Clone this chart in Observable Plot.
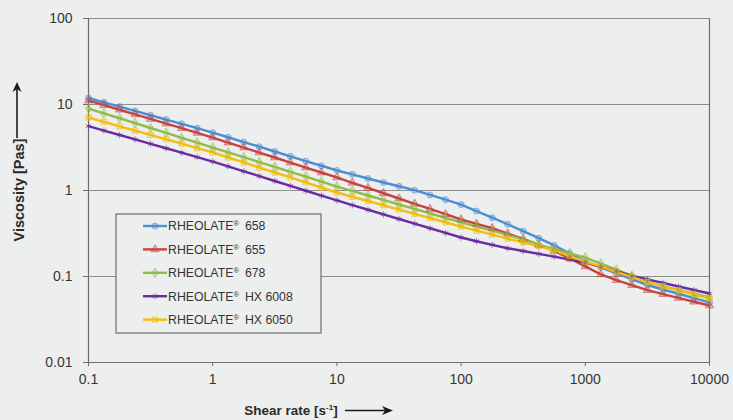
<!DOCTYPE html>
<html><head><meta charset="utf-8">
<script src="https://cdn.jsdelivr.net/npm/d3@7"></script>
<script src="https://cdn.jsdelivr.net/npm/@observablehq/plot@0.6"></script>
<style>
html,body{margin:0;padding:0;background:#edefee;}
#chart{position:relative;width:733px;height:420px;}
</style></head><body><div id="chart"></div>
<script>
const shearRate = [0.1,0.133,0.178,0.237,0.316,0.422,0.562,0.75,1,1.33,1.78,2.37,3.16,4.22,5.62,7.5,10,13.3,17.8,23.7,31.6,42.2,56.2,75,100,133,178,237,316,422,562,750,1000,1334,1778,2371,3162,4217,5623,7499,10000];
const rheolate658 = [11.9,10.6,9.46,8.41,7.50,6.68,5.96,5.30,4.72,4.16,3.66,3.23,2.84,2.50,2.20,1.94,1.71,1.54,1.38,1.24,1.12,1.01,0.887,0.782,0.687,0.577,0.483,0.405,0.337,0.279,0.230,0.185,0.149,0.128,0.109,0.0931,0.0796,0.0706,0.0630,0.0561,0.0499];
const rheolate655 = [11.1,9.84,8.69,7.67,6.79,6.00,5.30,4.68,4.13,3.61,3.16,2.76,2.42,2.11,1.85,1.62,1.42,1.23,1.07,0.929,0.807,0.701,0.610,0.530,0.460,0.410,0.365,0.316,0.274,0.233,0.198,0.162,0.131,0.106,0.0908,0.0794,0.0695,0.0625,0.0565,0.0509,0.0460];
const rheolate678 = [8.97,7.87,6.92,6.07,5.33,4.68,4.10,3.61,3.16,2.77,2.44,2.14,1.88,1.65,1.45,1.27,1.11,0.989,0.875,0.776,0.687,0.610,0.541,0.479,0.425,0.381,0.342,0.305,0.268,0.235,0.208,0.186,0.166,0.141,0.120,0.102,0.0863,0.0774,0.0700,0.0631,0.0570];
const rheolateHX6008 = [5.60,4.98,4.42,3.93,3.49,3.10,2.75,2.44,2.17,1.91,1.67,1.47,1.29,1.13,0.993,0.873,0.766,0.676,0.597,0.527,0.466,0.412,0.364,0.321,0.284,0.257,0.233,0.213,0.198,0.183,0.170,0.157,0.146,0.129,0.115,0.102,0.0927,0.0843,0.0766,0.0697,0.0634];
const rheolateHX6050 = [7.06,6.28,5.58,4.97,4.43,3.94,3.50,3.11,2.77,2.42,2.12,1.85,1.62,1.42,1.24,1.08,0.948,0.845,0.755,0.673,0.601,0.536,0.479,0.427,0.381,0.342,0.307,0.276,0.249,0.225,0.200,0.173,0.149,0.130,0.113,0.0989,0.0861,0.0769,0.0690,0.0618,0.0555];
const seriesNames = ["658","655","678","HX 6008","HX 6050"];
const seriesValues = [rheolate658, rheolate655, rheolate678, rheolateHX6008, rheolateHX6050];
const seriesColors = ["#4b8ed4","#c8423f","#8fbc4a","#6a2c9e","#f5bd0c"];
const seriesSymbols = ["circle","triangle","diamond","asterisk","square"];
const xTicks = [0.1,1,10,100,1000,10000];
const yTicks = [0.01,0.1,1,10,100];

const rows = [];
seriesNames.forEach((s, i) => seriesValues[i].forEach((v, j) => rows.push({series: s, x: shearRate[j], y: v})));

const font = "'Liberation Sans', Arial, sans-serif";
const chart = Plot.plot({
  width: 733, height: 420,
  marginLeft: 88, marginRight: 24, marginTop: 18, marginBottom: 58,
  style: {background: "#edefee", fontFamily: font, fontSize: "14px", color: "#363636"},
  x: {type: "log", domain: [0.1, 10000]},
  y: {type: "log", domain: [0.01, 100]},
  color: {domain: seriesNames, range: seriesColors},
  symbol: {domain: seriesNames, range: seriesSymbols},
  marks: [
    Plot.ruleY([0.1, 1, 10, 100], {stroke: "#8e8e8e", strokeWidth: 1}),
    Plot.ruleX([0.1, 10000], {stroke: "#6e6e6e", strokeWidth: 1.2}),
    Plot.ruleY([0.01], {stroke: "#6e6e6e", strokeWidth: 1.2}),
    Plot.axisY({ticks: yTicks, tickFormat: d => String(d), tickSize: 5, tickPadding: 11, label: null, stroke: "#6e6e6e"}),
    Plot.axisX({ticks: xTicks, tickFormat: d => String(d), tickSize: 4, tickPadding: 8, label: null, stroke: "#6e6e6e"}),
    Plot.line(rows, {x: "x", y: "y", z: "series", stroke: "series", strokeWidth: 2.4}),
    Plot.dot(rows, {x: "x", y: "y", symbol: "series", stroke: "series", fill: "series", fillOpacity: 0.3, strokeOpacity: 0.6, r: 3, strokeWidth: 1})
  ]
});
document.getElementById("chart").appendChild(chart);

const svg = d3.select(chart);
// Y axis label with arrow
svg.append("text").attr("transform", "translate(24,190) rotate(-90)").attr("text-anchor", "middle")
  .attr("font-family", font).attr("font-size", 14.5).attr("font-weight", "bold").attr("fill", "#2a2a2a").text("Viscosity [Pas]");
svg.append("line").attr("x1", 17).attr("x2", 17).attr("y1", 138).attr("y2", 87).attr("stroke", "#1a1a1a").attr("stroke-width", 1.6);
svg.append("path").attr("d", "M12.5,92 L17,82 L21.5,92 L17,89 Z").attr("fill", "#1a1a1a");
// X axis label with arrow
const xl = svg.append("text").attr("x", 291).attr("y", 415).attr("text-anchor", "middle")
  .attr("font-family", font).attr("font-size", 13.5).attr("font-weight", "bold").attr("fill", "#2a2a2a");
xl.append("tspan").text("Shear rate [s");
xl.append("tspan").attr("font-size", 8).attr("dy", -5).text("-1");
xl.append("tspan").attr("dy", 5).text("]");
svg.append("line").attr("x1", 345).attr("x2", 386).attr("y1", 410.5).attr("y2", 410.5).attr("stroke", "#1a1a1a").attr("stroke-width", 1.6);
svg.append("path").attr("d", "M382,406 L393,410.5 L382,415 L385,410.5 Z").attr("fill", "#1a1a1a");

// Legend
const lg = svg.append("g");
lg.append("rect").attr("x", 116).attr("y", 214).attr("width", 205).attr("height", 119)
  .attr("fill", "#edefee").attr("stroke", "#6e6e6e").attr("stroke-width", 1.2);
const symGen = {circle: d3.symbolCircle, triangle: d3.symbolTriangle, diamond: d3.symbolDiamond, asterisk: d3.symbolAsterisk, square: d3.symbolSquare};
seriesNames.forEach((s, i) => {
  const y = 226 + i * 23.4;
  lg.append("line").attr("x1", 143).attr("x2", 167).attr("y1", y).attr("y2", y).attr("stroke", seriesColors[i]).attr("stroke-width", 2.4);
  lg.append("path").attr("d", d3.symbol(symGen[seriesSymbols[i]], 28)()).attr("transform", `translate(155,${y})`)
    .attr("fill", seriesColors[i]).attr("fill-opacity", 0.3).attr("stroke", seriesColors[i]).attr("stroke-opacity", 0.6);
  const t = lg.append("text").attr("x", 168).attr("y", y + 4.4).attr("text-anchor", "start")
    .attr("font-family", font).attr("font-size", 12.3).attr("fill", "#333");
  t.append("tspan").text("RHEOLATE");
  t.append("tspan").attr("font-size", 7.5).attr("dy", -4).text("®");
  t.append("tspan").attr("dy", 4).attr("dx", 6).text(s);
});
</script></body></html>
